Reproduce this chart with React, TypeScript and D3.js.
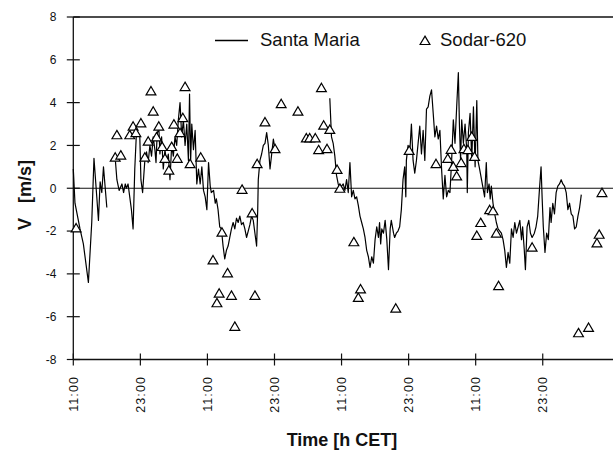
import React from "react";
import * as d3 from "d3";

// Santa Maria time series: [hours since 11:00 day 1, V m/s]; null = data gap
const santaMaria: ([number, number] | null)[] = [
  [0, 0.9], [0.3, -0.7], [1.2, -1.9], [1.8, -2.6], [2.7, -4.4], [3.3, -1.6], [3.7, 1.4], [4.2, -0.4],
  [4.5, -1.5], [4.8, 0.3], [5.1, -0.2], [5.4, 1.0], [6.0, -0.9],
  null,
  [7.5, 1.4], [7.8, 0.4], [8.2, -0.1], [8.7, 0.2], [9.0, -0.2], [9.3, 0.2], [9.5, 0.0], [9.8, 0.2],
  [10.1, -0.4], [10.4, -1.0], [10.7, -1.9], [11.0, 0.9], [11.3, 2.6], [11.9, 2.4], [12.1, 0.4],
  [12.4, -0.2], [12.8, 1.3], [13.1, 1.7], [13.4, 1.2], [13.7, 2.0], [14.0, 1.5], [14.3, 2.4],
  [14.6, 1.8], [14.8, 1.2], [15.0, 2.5], [15.3, 2.9], [15.5, 1.6], [15.8, 2.4], [16.1, 0.9],
  [16.4, 1.8], [16.7, 1.2], [17.0, 1.6], [17.3, 0.4], [17.6, 2.0], [17.9, 1.5], [18.2, 2.4],
  [18.5, 2.0], [18.8, 3.2], [19.1, 4.0], [19.4, 2.4], [19.7, 3.2], [20.0, 2.0], [20.3, 3.0],
  [20.6, 1.3], [20.8, 4.4], [21.0, 1.3], [21.2, 3.0], [21.5, 1.8], [21.8, 2.7], [22.1, 0.2],
  [22.4, 0.9], [22.7, 0.2], [23.0, 1.0], [23.3, -0.1], [23.6, -0.4], [23.9, -1.0], [24.2, 1.2],
  [24.5, 0.1], [24.7, -0.2], [25.1, -0.1], [25.4, -0.7], [25.6, -0.5], [25.9, -1.0], [26.2, -1.8],
  [26.5, -1.9], [26.8, -2.7], [27.1, -3.3], [27.4, -2.9], [27.7, -2.7], [28.0, -2.3], [28.3, -1.9],
  [28.6, -1.6], [28.9, -1.9], [29.2, -1.4], [29.5, -1.6], [29.8, -1.3], [30.1, -1.7], [30.4, -1.6],
  [30.7, -1.9], [31.0, -2.3], [31.3, -2.0], [31.6, -1.7], [31.9, -1.3], [32.2, -1.5], [32.5, -2.1],
  [32.8, -2.7], [33.0, -1.0], [33.1, 0.4], [33.4, 1.3], [33.7, 1.6], [34.0, 2.0], [34.3, 2.1],
  [34.6, 2.6], [34.9, 2.0], [35.2, 0.9], [35.5, 1.6], [35.8, 2.3], [36.1, 1.8],
  null,
  [45.9, 4.2], [46.2, 2.4], [46.5, 2.1], [46.8, 1.5], [47.1, 0.6], [47.4, 0.2], [47.7, -0.1],
  [48.0, 0.1], [48.3, 0.2], [48.6, -0.1], [48.9, 0.4], [49.2, -0.2], [49.5, 1.2], [49.8, -0.4],
  [50.1, -0.1], [50.4, -0.5], [50.7, -0.4], [51.0, -0.8], [51.3, -1.3], [51.6, -1.6], [51.9, -1.9],
  [52.2, -2.3], [52.5, -2.9], [52.8, -3.2], [53.1, -3.7], [53.4, -3.2], [53.7, -3.5], [54.0, -2.4],
  [54.3, -1.8], [54.6, -2.3], [54.8, -1.6], [55.0, -2.6], [55.2, -1.9], [55.5, -2.1], [55.8, -1.5],
  [56.1, -2.4], [56.4, -3.8], [56.7, -1.9], [56.9, -1.5], [57.3, -2.1], [57.5, -2.3], [57.8, -2.1],
  [58.1, -2.0], [58.4, -1.8], [58.7, -1.0], [59.0, 0.4], [59.3, 1.0], [59.5, -0.4], [59.6, 1.3],
  [59.9, 2.0], [60.2, 1.6], [60.5, 3.0], [60.8, 1.3], [61.1, 0.7], [61.4, 1.3], [61.7, 2.1],
  [62.0, 2.9], [62.3, 1.6], [62.6, 2.7], [62.9, 1.3], [63.2, 3.7], [63.5, 3.8], [63.8, 4.3],
  [64.1, 4.6], [64.4, 3.5], [64.7, 2.4], [65.0, 2.9], [65.3, 2.3], [65.6, 2.7], [65.9, 0.9],
  [66.2, -0.5], [66.5, 0.6], [66.8, -0.4], [67.1, -0.1], [67.4, -0.2], [67.7, 1.3], [68.0, 3.2],
  [68.3, 2.1], [68.6, 3.8], [68.9, 5.4], [69.1, 2.9], [69.3, 1.3], [69.5, 3.2], [69.8, 2.1],
  [70.1, 3.0], [70.4, 1.8], [70.5, -0.2], [70.7, 2.6], [71.0, 3.5], [71.3, 1.3], [71.6, 3.8],
  [71.9, 1.0], [72.2, 4.1], [72.4, 1.3], [72.7, 0.9], [73.6, -0.4], [73.9, 1.2], [74.1, -0.2],
  [74.4, 0.2], [74.6, -0.5], [74.8, 0.1], [75.1, -0.7], [75.4, -1.2], [75.7, -1.6], [76.0, -1.9],
  [76.6, -2.1], [76.9, -2.4], [77.2, -2.9], [77.5, -3.7], [77.8, -3.0], [78.1, -3.5], [78.4, -1.9],
  [78.7, -2.3], [79.0, -1.6], [79.3, -2.1], [79.6, -1.8], [79.9, -1.5], [80.2, -2.4], [80.4, -1.8],
  [80.7, -2.9], [80.9, -3.8], [81.2, -1.8], [81.5, -1.5], [81.8, -2.1], [82.1, -2.3], [82.5, -2.1],
  [82.8, -1.8], [83.1, -1.3], [83.4, -0.1], [83.7, 1.0], [83.9, -0.5], [84.1, -1.8], [84.4, -3.0],
  [84.7, -2.1], [85.0, -2.4], [85.3, -0.9], [85.5, -1.6], [85.8, -0.7], [86.1, -1.2], [86.4, -0.2],
  [86.7, 0.1], [87.0, 0.2], [87.3, 0.4], [87.6, 0.2], [87.9, 0.1], [88.2, -0.2], [88.5, -1.0],
  [88.8, -0.7], [89.1, -1.2], [89.4, -1.3], [89.7, -1.9], [90.0, -1.8], [90.3, -1.3], [90.6, -0.9],
  [90.9, -0.3],
];

// Sodar-620 observations: [hours, V m/s]
const sodar: [number, number][] = [
  [0.5, -1.85],
  [7.5, 1.45], [7.8, 2.5], [8.5, 1.55], [10.1, 2.5], [10.7, 2.9], [11.2, 2.6], [12.1, 3.05],
  [12.8, 1.45], [13.4, 2.2], [13.9, 4.55], [14.3, 3.6], [14.9, 2.4], [15.3, 2.9], [15.9, 1.95],
  [16.4, 1.4], [17.1, 0.85], [17.6, 1.95], [18.0, 3.0], [18.6, 1.4], [19.1, 2.6], [19.6, 3.3],
  [20.0, 4.75], [20.9, 1.15], [22.8, 1.45],
  [25.0, -3.35], [25.7, -5.35], [26.1, -4.9], [26.6, -2.05], [27.6, -3.95], [28.3, -5.0],
  [28.9, -6.45], [30.2, -0.05], [32.0, -1.15], [32.5, -5.0], [32.9, 1.15], [34.3, 3.1],
  [36.1, 1.85], [37.2, 3.95], [40.2, 3.6], [41.7, 2.35], [42.3, 2.35], [43.3, 2.35], [43.9, 1.8],
  [44.4, 4.7], [44.8, 2.95], [45.4, 1.85], [45.9, 2.75], [47.2, 0.88], [47.7, 0.0],
  [50.2, -2.5], [51.0, -5.1], [51.4, -4.7], [57.7, -5.6], [60.1, 1.77], [64.9, 1.15], [67.0, 1.4],
  [67.6, 1.82], [68.0, 1.02], [68.6, 0.58], [69.4, 1.2], [69.9, 1.85], [70.6, 1.8], [71.3, 2.42],
  [71.8, 1.49], [72.2, -2.2], [72.9, -1.6], [74.5, -1.0], [75.1, -1.05], [75.7, -2.1],
  [76.1, -4.55], [82.1, -2.75], [90.4, -6.75], [92.2, -6.5], [93.7, -2.55], [94.1, -2.15],
  [94.6, -0.2],
];

const xTicks = [0, 12, 24, 36, 48, 60, 72, 84];
const xTickLabels = ["11:00", "23:00", "11:00", "23:00", "11:00", "23:00", "11:00", "23:00"];
const yTicks = [-8, -6, -4, -2, 0, 2, 4, 6, 8];

const FONT = "'Liberation Sans', Arial, Helvetica, sans-serif";

function tri(cx: number, cy: number) {
  return `M${cx},${cy - 4.4}L${cx + 4.9},${cy + 4.0}L${cx - 4.9},${cy + 4.0}Z`;
}

export default function App() {
  const W = 613, H = 450;
  const x = d3.scaleLinear().domain([0, 96]).range([73.3, 609.8]);
  const y = d3.scaleLinear().domain([-8, 8]).range([359.5, 17]);
  const line = d3
    .line<[number, number] | null>()
    .defined((d) => d !== null)
    .x((d) => x((d as [number, number])[0]))
    .y((d) => y((d as [number, number])[1]));

  const x0 = x(0);
  const right = 613;

  return (
    <svg
      width={W}
      height={H}
      style={{ position: "absolute", left: 0, top: 0, background: "#fff" }}
      fontFamily={FONT}
    >
      <rect x={0} y={0} width={W} height={H} fill="#fff" />
      {/* frame / axes */}
      <line x1={x0} x2={right} y1={y(8)} y2={y(8)} stroke="#111" strokeWidth={1.3} />
      <line x1={x0} x2={right} y1={y(-8)} y2={y(-8)} stroke="#111" strokeWidth={1.3} />
      <line x1={x0} x2={x0} y1={y(8)} y2={y(-8)} stroke="#111" strokeWidth={1.3} />
      <line x1={x0} x2={right} y1={y(0)} y2={y(0)} stroke="#111" strokeWidth={1.2} />

      {yTicks.map((t) => (
        <g key={"y" + t}>
          <line x1={x0 - 6.5} x2={x0 + 6.5} y1={y(t)} y2={y(t)} stroke="#111" strokeWidth={1.2} />
          <text x={56.5} y={y(t)} dy="0.36em" textAnchor="end" fontSize={12} fill="#111">
            {t}
          </text>
        </g>
      ))}

      {xTicks.map((t, i) => (
        <g key={"x" + t}>
          <line x1={x(t)} x2={x(t)} y1={y(-8) - 6} y2={y(-8) + 6} stroke="#111" strokeWidth={1.2} />
          <text
            transform={`translate(${x(t) + 4.4},376) rotate(-90)`}
            textAnchor="end"
            fontSize={12.5}
            letterSpacing={1.1}
            fill="#111"
          >
            {xTickLabels[i]}
          </text>
        </g>
      ))}

      {/* Santa Maria line */}
      <path d={line(santaMaria) || ""} fill="none" stroke="#000" strokeWidth={1.2} strokeLinejoin="round" />

      {/* Sodar-620 triangles */}
      {sodar.map((d, i) => (
        <path key={"s" + i} d={tri(x(d[0]), y(d[1]))} fill="#fff" stroke="#000" strokeWidth={1.2} />
      ))}

      {/* legend */}
      <line x1={215} x2={248} y1={40.5} y2={40.5} stroke="#000" strokeWidth={1.5} />
      <text x={260} y={45.5} fontSize={18.5} fill="#111">Santa Maria</text>
      <path d={tri(425, 40.5)} fill="#fff" stroke="#000" strokeWidth={1.2} />
      <text x={440} y={45.5} fontSize={18.5} fill="#111">Sodar-620</text>

      {/* axis titles */}
      <text x={342} y={446} textAnchor="middle" fontSize={18} fontWeight="bold" fill="#111">
        Time [h CET]
      </text>
      <text
        transform={`translate(31,195) rotate(-90)`}
        textAnchor="middle"
        fontSize={18}
        fontWeight="bold"
        fill="#111"
        style={{ whiteSpace: "pre" }}
      >
        {"V   [m/s]"}
      </text>
    </svg>
  );
}
